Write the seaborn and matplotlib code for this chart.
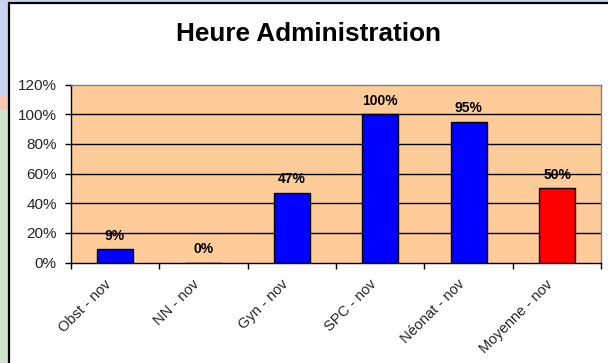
import matplotlib
matplotlib.use("Agg")
import matplotlib.pyplot as plt
from matplotlib.patches import Rectangle
from matplotlib.transforms import ScaledTranslation
import seaborn as sns
import pandas as pd

categories = ["Obst - nov", "NN - nov", "Gyn - nov", "SPC - nov", "Néonat - nov", "Moyenne - nov"]
values = [9, 0, 47, 100, 95, 50]
bar_colors = ["#0000FF", "#0000FF", "#0000FF", "#0000FF", "#0000FF", "#FF0000"]
y_ticks = [0, 20, 40, 60, 80, 100, 120]
title = "Heure Administration"

sns.set_theme(style="white")
plt.rcParams["font.family"] = ["Liberation Sans", "DejaVu Sans"]

W, H = 608, 363
fig = plt.figure(figsize=(W / 100, H / 100), dpi=100)
fig.patch.set_facecolor("white")

# slide background strips behind the chart frame
fig.patches.append(Rectangle((0, 0), 1, 1, transform=fig.transFigure,
                             facecolor="#cfe5c9", edgecolor="none", zorder=-10))
fig.patches.append(Rectangle((0, 1 - 95 / H), 1, 95 / H, transform=fig.transFigure,
                             facecolor="#c8d3ee", edgecolor="none", zorder=-9))
fig.patches.append(Rectangle((0, 1 - 109 / H), 9 / W, 14 / H, transform=fig.transFigure,
                             facecolor="#f6c8b2", edgecolor="none", zorder=-9))
# chart frame
fig.patches.append(Rectangle((9 / W, -0.05), 1.0, 1 - 3 / H + 0.05, transform=fig.transFigure,
                             facecolor="white", edgecolor="black", linewidth=1.6, zorder=-5))

left, right = 70.7 / W, 601.3 / W
bottom, top = 1 - 262.7 / H, 1 - 84.5 / H
ax = fig.add_axes([left, bottom, right - left, top - bottom])
ax.set_facecolor("#FFCC99")

df = pd.DataFrame({"cat": categories, "val": values})
sns.barplot(data=df, x="cat", y="val", hue="cat", palette=dict(zip(categories, bar_colors)),
            dodge=False, width=0.41, edgecolor="black", linewidth=1.0, legend=False,
            saturation=1, ax=ax, zorder=3)

for i, v in enumerate(values):
    ax.annotate(f"{v}%", (i, v), xytext=(0, 9.8), textcoords="offset points",
                ha="center", va="center", fontsize=10, fontweight="bold", color="black")

ax.set_ylim(0, 120)
ax.set_xlim(-0.5, len(categories) - 0.5)
ax.set_yticks(y_ticks)
ax.set_yticklabels([f"{t}%" for t in y_ticks], fontsize=11)
for t in y_ticks[1:-1]:
    ax.axhline(t, color="black", linewidth=1.0, zorder=1)

ax.set_xticks(range(len(categories)))
ax.set_xticklabels(categories, fontsize=10.5)
ax.set_xticks([i - 0.5 for i in range(len(categories) + 1)], minor=True)
ax.tick_params(axis="x", which="major", length=0, pad=14)
ax.tick_params(axis="x", which="minor", length=4, width=1, color="black", direction="out", bottom=True)
ax.tick_params(axis="y", length=4, width=1, color="black", direction="out", left=True, pad=6)
shift = ScaledTranslation(-0.06, 0, fig.dpi_scale_trans)
for lab in ax.get_xticklabels():
    lab.set_rotation(45)
    lab.set_ha("right")
    lab.set_va("center")
    lab.set_rotation_mode("anchor")
    lab.set_transform(lab.get_transform() + shift)

ax.set_xlabel("")
ax.set_ylabel("")
for s in ["left", "bottom"]:
    ax.spines[s].set_color("black")
    ax.spines[s].set_linewidth(1.0)
for s in ["top", "right"]:
    ax.spines[s].set_color("#808080")
    ax.spines[s].set_linewidth(1.0)
    ax.spines[s].set_visible(True)

fig.text(309 / W, 1 - 34 / H, title, ha="center", va="center",
         fontsize=18.8, fontweight="bold", color="black")

fig.savefig("out.png", dpi=100)
